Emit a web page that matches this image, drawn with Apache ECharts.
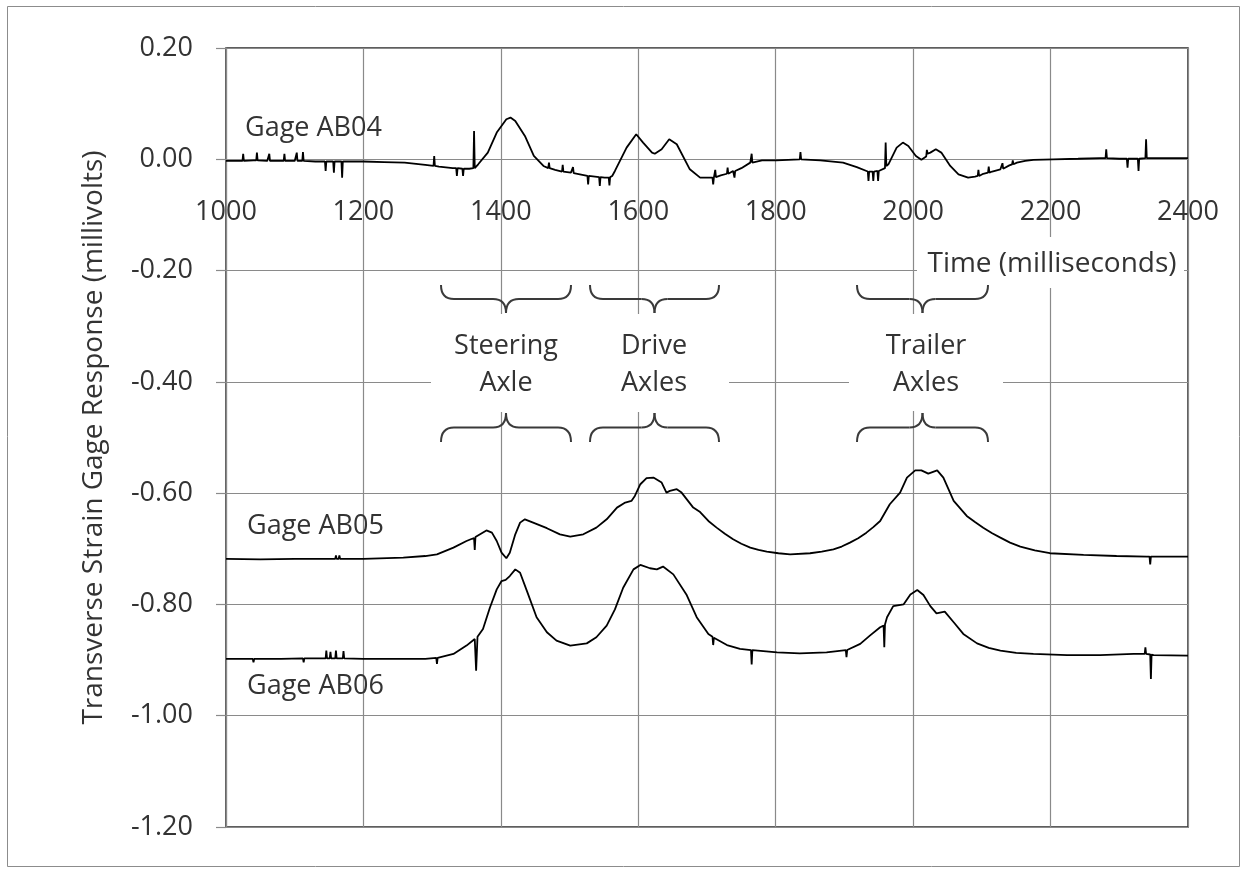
<!DOCTYPE html>
<html><head><meta charset="utf-8">
<script src="https://cdn.jsdelivr.net/npm/echarts@6/dist/echarts.min.js"></script>
<style>html,body{margin:0;padding:0;background:#fff}#c{width:1247px;height:869px}</style>
</head><body><div id="c"></div>
<script>
// ---- data ----
const xMin = 1000, xMax = 2400, xStep = 200;
const yMin = -1.2, yMax = 0.2, yStep = 0.2;
const seriesNames = ['Gage AB04', 'Gage AB05', 'Gage AB06'];
const axleGroups = [['Steering', 'Axle'], ['Drive', 'Axles'], ['Trailer', 'Axles']];

const ab04T = [1000,1020,1024,1025,1026,1040,1044,1045,1046,1060,1062,1063,1064,1080,1084,1085,1086,1100,1102,1103,1104,1111,1112,1113,1130,1144,1145,1146,1156,1157,1158,1168,1169,1170,1180,1200,1230,1260,1290,1302,1303,1304,1310,1330,1335,1336,1337,1344,1345,1346,1354,1360,1361,1362,1367,1381,1394,1408,1414,1421,1435,1448,1462,1469,1470,1471,1479,1489,1490,1491,1502,1504,1505,1506,1515,1526,1527,1528,1543,1544,1545,1551,1557,1558,1559,1562,1566,1583,1597,1607,1620,1624,1634,1645,1656,1675,1690,1704,1708,1709,1710,1711,1712,1713,1720,1729,1730,1731,1738,1739,1740,1741,1750,1763,1764,1765,1766,1780,1801,1835,1836,1837,1865,1898,1918,1934,1935,1936,1941,1942,1943,1948,1949,1950,1952,1959,1960,1961,1964,1976,1985,1993,2004,2012,2019,2020,2021,2025,2033,2041,2054,2066,2080,2090,2094,2095,2096,2102,2109,2110,2111,2115,2127,2129,2130,2131,2140,2144,2145,2146,2151,2163,2175,2204,2240,2272,2280,2281,2282,2300,2311,2312,2313,2320,2327,2328,2329,2338,2339,2340,2350,2400];
const ab04V = [-0.003,-0.003,-0.003,0.010,-0.003,-0.002,-0.002,0.012,-0.002,-0.003,-0.003,0.010,-0.003,-0.003,-0.003,0.010,-0.003,-0.003,-0.003,0.012,-0.003,-0.003,0.013,-0.003,-0.004,-0.004,-0.021,-0.004,-0.004,-0.024,-0.004,-0.004,-0.033,-0.004,-0.004,-0.004,-0.005,-0.006,-0.010,-0.012,0.006,-0.012,-0.013,-0.016,-0.016,-0.030,-0.016,-0.017,-0.030,-0.017,-0.017,-0.016,0.051,-0.016,-0.009,0.012,0.048,0.072,0.075,0.069,0.042,0.006,-0.012,-0.016,-0.006,-0.016,-0.019,-0.022,-0.010,-0.022,-0.024,-0.025,-0.014,-0.025,-0.027,-0.030,-0.045,-0.030,-0.032,-0.048,-0.032,-0.033,-0.033,-0.047,-0.032,-0.030,-0.021,0.021,0.045,0.030,0.012,0.010,0.018,0.036,0.027,-0.018,-0.033,-0.033,-0.033,-0.045,-0.033,-0.032,-0.019,-0.032,-0.029,-0.026,-0.015,-0.026,-0.021,-0.021,-0.033,-0.021,-0.016,-0.006,-0.006,0.010,-0.006,-0.002,-0.002,0.000,0.013,0.000,-0.002,-0.006,-0.014,-0.022,-0.039,-0.022,-0.022,-0.039,-0.022,-0.021,-0.039,-0.021,-0.021,-0.016,0.030,-0.012,-0.009,0.021,0.030,0.024,0.006,-0.001,0.005,0.017,0.010,0.012,0.018,0.012,-0.012,-0.027,-0.033,-0.031,-0.030,-0.019,-0.030,-0.026,-0.024,-0.013,-0.024,-0.022,-0.018,-0.017,-0.007,-0.017,-0.011,-0.009,-0.002,-0.009,-0.006,-0.003,-0.001,0.000,0.001,0.002,0.002,0.018,0.002,0.001,0.001,-0.015,0.001,0.001,0.001,-0.021,0.001,0.002,0.036,0.002,0.002,0.002];

const ab05T = [1000,1050,1100,1159,1160,1161,1164,1165,1166,1200,1258,1290,1307,1331,1350,1358,1361,1362,1363,1379,1387,1394,1401,1408,1413,1421,1428,1435,1447,1467,1486,1501,1520,1539,1554,1569,1581,1590,1595,1603,1612,1622,1634,1641,1646,1656,1663,1680,1690,1702,1714,1726,1738,1750,1763,1775,1787,1804,1821,1850,1867,1884,1896,1908,1920,1932,1942,1952,1966,1981,1991,2003,2012,2022,2035,2044,2059,2078,2090,2102,2115,2127,2141,2156,2177,2199,2248,2296,2340,2344,2345,2346,2400];
const ab05V = [-0.718,-0.719,-0.718,-0.718,-0.712,-0.718,-0.718,-0.712,-0.718,-0.718,-0.716,-0.713,-0.710,-0.698,-0.686,-0.682,-0.681,-0.702,-0.679,-0.667,-0.671,-0.686,-0.707,-0.717,-0.707,-0.674,-0.653,-0.647,-0.653,-0.663,-0.674,-0.678,-0.674,-0.662,-0.647,-0.626,-0.617,-0.614,-0.605,-0.584,-0.573,-0.572,-0.581,-0.599,-0.596,-0.593,-0.599,-0.626,-0.634,-0.650,-0.662,-0.673,-0.683,-0.691,-0.698,-0.702,-0.705,-0.708,-0.710,-0.708,-0.705,-0.701,-0.696,-0.689,-0.681,-0.671,-0.661,-0.650,-0.620,-0.599,-0.572,-0.559,-0.559,-0.565,-0.559,-0.572,-0.614,-0.641,-0.652,-0.662,-0.672,-0.680,-0.689,-0.696,-0.703,-0.708,-0.711,-0.713,-0.714,-0.714,-0.728,-0.714,-0.714];

const ab06T = [1000,1039,1040,1041,1080,1112,1113,1114,1145,1146,1147,1151,1152,1153,1159,1160,1161,1170,1171,1172,1200,1250,1290,1306,1307,1308,1331,1350,1362,1363,1364,1366,1374,1384,1394,1401,1407,1413,1421,1428,1438,1452,1467,1481,1501,1525,1539,1554,1566,1578,1593,1603,1617,1627,1636,1651,1670,1685,1702,1708,1709,1710,1729,1748,1764,1765,1766,1768,1802,1835,1874,1902,1903,1904,1923,1937,1952,1957,1958,1959,1962,1971,1986,1996,2006,2015,2025,2034,2046,2059,2073,2093,2110,2127,2150,2175,2224,2272,2321,2337,2338,2339,2345,2346,2347,2350,2400];
const ab06V = [-0.898,-0.898,-0.904,-0.898,-0.898,-0.897,-0.904,-0.897,-0.897,-0.883,-0.897,-0.897,-0.885,-0.897,-0.897,-0.883,-0.897,-0.897,-0.884,-0.897,-0.898,-0.898,-0.898,-0.896,-0.907,-0.896,-0.889,-0.874,-0.862,-0.862,-0.919,-0.858,-0.844,-0.806,-0.773,-0.758,-0.756,-0.749,-0.737,-0.743,-0.776,-0.823,-0.850,-0.865,-0.874,-0.870,-0.859,-0.838,-0.809,-0.770,-0.737,-0.729,-0.735,-0.737,-0.732,-0.746,-0.782,-0.823,-0.853,-0.858,-0.873,-0.860,-0.873,-0.880,-0.882,-0.908,-0.882,-0.883,-0.886,-0.888,-0.886,-0.882,-0.895,-0.882,-0.871,-0.856,-0.841,-0.838,-0.877,-0.836,-0.823,-0.803,-0.800,-0.782,-0.774,-0.783,-0.803,-0.816,-0.813,-0.832,-0.853,-0.870,-0.878,-0.883,-0.887,-0.889,-0.891,-0.891,-0.889,-0.889,-0.877,-0.889,-0.890,-0.934,-0.890,-0.891,-0.892];

// ---- chart ----
const FONT = '"Open Sans", "Liberation Sans", sans-serif';
const TXT = '#333333';
const GRID = '#8a8a8a';
const gridBox = { left: 226, top: 48, width: 962, height: 779 };
// x axis crosses the y axis at value 0: shift it up from the bottom edge of the grid
const xAxisOffset = -gridBox.height * (0 - yMin) / (yMax - yMin);

function pairs(t, v) { return t.map((x, i) => [x, v[i]]); }
const braceStyle = { stroke: '#3a3a3a', fill: null, lineWidth: 2 };
function quad(xa, ya, cx, cy, xb, yb) {
  return { type: 'bezierCurve', z: 11, shape: { x1: xa, y1: ya, cpx1: cx, cpy1: cy, x2: xb, y2: yb }, style: braceStyle };
}
function seg(xa, ya, xb, yb) {
  return { type: 'line', z: 11, shape: { x1: xa, y1: ya, x2: xb, y2: yb }, style: braceStyle };
}
function brace(x1, x2, yEnd, yCusp) {
  const ym = (yEnd + yCusp) / 2, xc = (x1 + x2) / 2, r = 13;
  return [
    quad(x1, yEnd, x1, ym, x1 + r, ym),
    seg(x1 + r, ym, xc - r, ym),
    quad(xc - r, ym, xc, ym, xc, yCusp),
    quad(xc, yCusp, xc, ym, xc + r, ym),
    seg(xc + r, ym, x2 - r, ym),
    quad(x2 - r, ym, x2, ym, x2, yEnd)
  ];
}
function txt(text, x, y, align, size) {
  return { type: 'text', x: x, y: y, z: 12,
    style: { text: text, font: size + 'px ' + FONT, fill: TXT, align: align, verticalAlign: 'middle' } };
}
function box(x, y, w, h) {
  return { type: 'rect', z: 10, shape: { x: x, y: y, width: w, height: h }, style: { fill: '#ffffff' } };
}

const braceSpans = [[441, 571], [590, 719], [857, 988]];
const labelCenters = [506, 654, 926];

let graphics = [
  { type: 'rect', z: 0, shape: { x: 7.5, y: 6.5, width: 1232, height: 860 }, style: { fill: null, stroke: '#8c8c8c', lineWidth: 1 } },
  box(917, 237, 267, 51),
  box(431, 314, 298, 98),
  box(849, 314, 154, 97),
  txt('Time (milliseconds)', 1052, 264, 'center', 28),
  txt(seriesNames[0], 245, 128, 'left', 27),
  txt(seriesNames[1], 247, 526, 'left', 27),
  txt(seriesNames[2], 247, 686, 'left', 27)
];
braceSpans.forEach((s, i) => {
  graphics = graphics.concat(brace(s[0], s[1], 285, 313));
  graphics = graphics.concat(brace(s[0], s[1], 442, 413));
  graphics.push(txt(axleGroups[i][0], labelCenters[i], 346, 'center', 27));
  graphics.push(txt(axleGroups[i][1], labelCenters[i], 383, 'center', 27));
});

const lineStyle = { color: '#000000', width: 1.8 };
const chart = echarts.init(document.getElementById('c'), null, { renderer: 'canvas' });
chart.setOption({
  animation: false,
  backgroundColor: '#ffffff',
  grid: Object.assign({ show: true, borderColor: '#2a2a2a', borderWidth: 1.5, containLabel: false, outerBoundsMode: 'none' }, gridBox),
  xAxis: {
    type: 'value', min: xMin, max: xMax, interval: xStep,
    position: 'bottom', offset: xAxisOffset,
    axisLine: { onZero: false, lineStyle: { color: GRID, width: 1.2 } },
    axisTick: { show: false },
    axisLabel: { margin: 40, fontFamily: FONT, fontSize: 27, color: TXT, showMinLabel: true, showMaxLabel: true,
                 formatter: v => String(v) },
    splitLine: { show: true, lineStyle: { color: GRID, width: 1.2 } }
  },
  yAxis: {
    type: 'value', min: yMin, max: yMax, interval: yStep,
    name: 'Transverse Strain Gage Response (millivolts)',
    nameLocation: 'middle', nameGap: 118,
    nameTextStyle: { fontFamily: FONT, fontSize: 28, color: TXT },
    axisLine: { show: true, onZero: false, lineStyle: { color: GRID, width: 1.2 } },
    axisTick: { show: true, length: 10, lineStyle: { color: GRID, width: 1.2 } },
    axisLabel: { margin: 33, fontFamily: FONT, fontSize: 27, color: TXT, formatter: v => v.toFixed(2) },
    splitLine: { show: true, lineStyle: { color: GRID, width: 1.2 } }
  },
  series: [
    { name: seriesNames[0], type: 'line', data: pairs(ab04T, ab04V), showSymbol: false, lineStyle: lineStyle },
    { name: seriesNames[1], type: 'line', data: pairs(ab05T, ab05V), showSymbol: false, lineStyle: lineStyle },
    { name: seriesNames[2], type: 'line', data: pairs(ab06T, ab06V), showSymbol: false, lineStyle: lineStyle }
  ],
  graphic: graphics
});
</script></body></html>
